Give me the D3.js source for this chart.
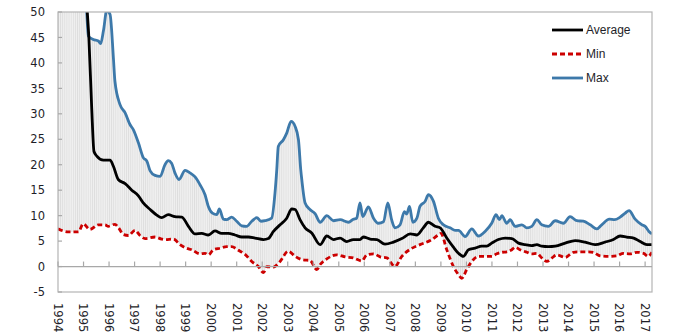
<!DOCTYPE html>
<html>
<head>
<meta charset="utf-8">
<script src="https://cdn.jsdelivr.net/npm/d3@7"></script>
<style>
  html, body { margin: 0; padding: 0; background: #ffffff; }
  svg { display: block; }
</style>
</head>
<body>
<svg id="chart" width="690" height="336"></svg>
<script>
// ---- data (decimal years, values) ----
const maxX = [1994.00,1994.50,1995.00,1995.12,1995.19,1995.38,1995.58,1995.67,1995.78,1995.91,1996.04,1996.17,1996.23,1996.43,1996.63,1996.82,1996.95,1997.15,1997.34,1997.48,1997.61,1997.80,1998.00,1998.19,1998.32,1998.45,1998.58,1998.74,1998.98,1999.17,1999.37,1999.56,1999.76,1999.89,2000.05,2000.22,2000.32,2000.48,2000.61,2000.80,2001.00,2001.20,2001.39,2001.59,2001.79,2001.95,2002.11,2002.37,2002.50,2002.57,2002.63,2002.83,2002.96,2003.13,2003.29,2003.42,2003.51,2003.55,2003.68,2003.87,2004.07,2004.27,2004.53,2004.79,2005.05,2005.38,2005.57,2005.70,2005.83,2005.94,2006.16,2006.36,2006.55,2006.75,2006.92,2007.07,2007.20,2007.40,2007.57,2007.66,2007.77,2007.90,2008.06,2008.18,2008.38,2008.51,2008.71,2008.90,2009.10,2009.36,2009.56,2009.69,2009.95,2010.21,2010.47,2010.73,2010.99,2011.16,2011.29,2011.39,2011.58,2011.71,2011.91,2012.17,2012.37,2012.56,2012.76,2012.95,2013.21,2013.48,2013.80,2014.06,2014.33,2014.58,2014.85,2015.11,2015.30,2015.60,2015.80,2016.02,2016.22,2016.37,2016.61,2016.87,2017.00,2017.15,2017.27];
const maxY = [90,80,62,50.5,45.3,44.6,44.3,43.8,46.3,50.3,49.5,41.0,36.4,31.8,30.2,27.9,26.9,24.3,21.4,20.7,18.8,17.9,17.7,20.0,20.8,20.3,18.4,17.1,18.9,18.4,17.6,16.1,14.1,11.8,10.5,10.2,11.3,9.3,9.2,9.7,8.9,8.0,7.9,8.9,9.6,8.9,9.0,9.5,14.4,19.0,23.6,24.9,26.2,28.5,27.5,24.9,19.0,17.1,12.5,11.2,10.4,8.7,10.0,9.0,9.2,8.7,9.3,9.5,12.5,9.8,11.7,9.5,8.5,8.8,12.5,9.2,7.6,8.2,10.8,10.3,11.8,8.7,9.5,11.8,12.8,14.1,12.8,9.5,8.2,7.6,7.1,7.1,5.9,7.4,6.0,6.9,8.5,10.2,9.2,10.0,8.5,9.2,7.9,8.2,7.6,7.9,9.2,8.2,7.9,9.0,8.5,9.8,9.0,8.9,8.2,7.4,8.2,9.3,9.2,9.7,10.5,11.0,9.3,8.2,7.9,6.9,6.4];

const avgX = [1994.00,1994.50,1995.00,1995.14,1995.21,1995.32,1995.41,1995.52,1995.78,1996.04,1996.17,1996.36,1996.63,1996.89,1997.15,1997.34,1997.61,1997.87,1998.06,1998.32,1998.58,1998.85,1999.11,1999.37,1999.63,1999.89,2000.15,2000.41,2000.67,2000.93,2001.20,2001.46,2001.72,2002.05,2002.24,2002.44,2002.70,2002.96,2003.16,2003.29,2003.48,2003.68,2003.94,2004.27,2004.53,2004.79,2005.05,2005.31,2005.57,2005.83,2005.96,2006.23,2006.49,2006.81,2007.14,2007.47,2007.80,2008.06,2008.31,2008.51,2008.77,2008.97,2009.23,2009.49,2009.69,2009.88,2010.08,2010.34,2010.60,2010.80,2010.99,2011.25,2011.52,2011.78,2012.04,2012.30,2012.56,2012.76,2012.95,2013.21,2013.48,2013.87,2014.26,2014.65,2015.04,2015.43,2015.76,2016.02,2016.28,2016.55,2016.81,2017.07,2017.27];
const avgY = [85,75,60,50.5,44.9,31.2,22.6,21.7,20.9,20.9,19.7,17.1,16.3,15.0,13.9,12.5,11.2,10.1,9.6,10.2,9.8,9.7,7.9,6.4,6.5,6.2,7.0,6.5,6.5,6.2,5.8,5.8,5.6,5.3,5.5,6.9,8.2,9.5,11.3,11.2,9.2,7.6,6.6,4.3,6.0,5.3,5.6,4.9,5.3,5.3,5.8,5.4,5.3,4.4,4.8,5.5,6.4,6.2,7.6,8.7,7.9,7.6,5.6,3.8,2.6,2.0,3.3,3.6,4.0,4.0,4.6,5.3,5.6,5.5,4.6,4.3,4.1,4.3,4.0,3.9,4.0,4.6,5.1,4.8,4.3,4.8,5.3,6.0,5.8,5.6,4.9,4.3,4.3];

const minX = [1994.00,1994.40,1994.80,1994.99,1995.25,1995.58,1995.84,1995.97,1996.23,1996.36,1996.56,1996.76,1997.02,1997.21,1997.41,1997.80,1998.06,1998.19,1998.52,1998.78,1999.04,1999.24,1999.56,1999.76,1999.89,2000.09,2000.35,2000.61,2000.80,2001.07,2001.33,2001.59,2001.85,2002.05,2002.18,2002.44,2002.70,2003.02,2003.29,2003.61,2003.87,2004.14,2004.27,2004.53,2004.92,2005.25,2005.57,2005.90,2006.10,2006.36,2006.62,2006.88,2007.20,2007.47,2007.80,2008.18,2008.58,2008.90,2009.00,2009.23,2009.49,2009.69,2009.82,2010.01,2010.21,2010.47,2010.73,2010.99,2011.19,2011.39,2011.58,2011.78,2011.91,2012.10,2012.37,2012.56,2012.76,2012.95,2013.15,2013.35,2013.54,2013.87,2014.19,2014.52,2014.78,2014.97,2015.24,2015.56,2015.89,2016.15,2016.41,2016.68,2016.94,2017.11,2017.27];
const minY = [7.4,6.8,6.8,8.4,7.3,8.2,8.2,7.9,8.3,7.7,6.3,6.1,7.1,6.1,5.5,5.8,5.4,5.3,5.4,4.3,3.6,3.3,2.5,2.6,2.3,3.3,3.6,3.9,3.9,3.2,2.4,1.0,0.0,-1.2,0.0,-0.1,1.0,3.0,2.0,1.3,1.2,-0.6,0.4,1.5,2.3,1.9,1.7,1.1,2.3,2.5,1.9,1.7,0.0,2.0,3.4,4.3,5.1,6.2,6.5,3.3,0.0,-1.6,-2.3,-0.6,1.0,2.0,2.0,2.0,2.5,2.8,2.9,3.3,3.8,3.3,2.8,2.5,2.6,1.7,1.0,1.7,2.3,1.8,2.8,2.9,2.9,2.8,2.1,2.0,2.1,2.6,2.5,2.8,2.6,2.0,2.8];

const yTicks = [-5,0,5,10,15,20,25,30,35,40,45,50];
const yearLabels = ["1994","1995","1996","1997","1998","1999","2000","2001","2002","2003","2004","2005","2006","2007","2008","2009","2010","2011","2012","2013","2014","2015","2016","2017"];
const seriesNames = ["Average","Min","Max"];

// ---- layout ----
const L = 58, T = 12, R = 652, B = 292;
const svg = d3.select("#chart");
const x = d3.scaleLinear().domain([1994, 2017.27]).range([L, R]);
const y = d3.scaleLinear().domain([-5, 50]).range([B, T]);
const axisColor = "#b4b4b4";
const textColor = "#1e1e28";

const defs = svg.append("defs");
defs.append("clipPath").attr("id", "plotClip")
  .append("rect").attr("x", L).attr("y", T).attr("width", R - L).attr("height", B - T);

const monthW = x(1994 + 1/12) - x(1994);
const pat = defs.append("pattern").attr("id", "hl")
  .attr("patternUnits", "userSpaceOnUse")
  .attr("x", L).attr("y", 0)
  .attr("width", monthW).attr("height", 10);
pat.append("rect").attr("width", monthW).attr("height", 10).attr("fill", "#f0f0f0");
pat.append("rect").attr("x", 0).attr("width", 0.8).attr("height", 10).attr("fill", "#dedede");

const maxPts = maxX.map((d, i) => [d, maxY[i]]);
const avgPts = avgX.map((d, i) => [d, avgY[i]]);
const minPts = minX.map((d, i) => [d, minY[i]]);

const plot = svg.append("g").attr("clip-path", "url(#plotClip)");

// high-low band
const bandPts = maxPts.concat(minPts.slice().reverse());
plot.append("path")
  .attr("d", d3.line().x(d => x(d[0])).y(d => y(d[1])).curve(d3.curveLinearClosed)(bandPts))
  .attr("fill", "url(#hl)");

// frame
svg.append("rect").attr("x", L).attr("y", T).attr("width", R - L).attr("height", B - T)
  .attr("fill", "none").attr("stroke", axisColor).attr("stroke-width", 1.2);

// zero line with year ticks
svg.append("line").attr("x1", L).attr("x2", R).attr("y1", y(0)).attr("y2", y(0))
  .attr("stroke", "#a8a8a8").attr("stroke-width", 1.2);
const years = yearLabels.map(Number);
svg.selectAll("line.ytk").data(years).join("line").attr("class", "ytk")
  .attr("x1", d => x(d)).attr("x2", d => x(d))
  .attr("y1", y(0)).attr("y2", y(0) - 5)
  .attr("stroke", "#a8a8a8").attr("stroke-width", 1.2);

// left axis ticks (inward)
svg.selectAll("line.ltk").data(yTicks).join("line").attr("class", "ltk")
  .attr("x1", L).attr("x2", L + 4)
  .attr("y1", d => y(d)).attr("y2", d => y(d))
  .attr("stroke", "#a8a8a8").attr("stroke-width", 1.2);

// y labels
svg.selectAll("text.yl").data(yTicks).join("text").attr("class", "yl")
  .attr("x", 45).attr("y", d => y(d)).attr("dy", "0.36em")
  .attr("text-anchor", "end")
  .attr("font-family", "DejaVu Sans, sans-serif").attr("font-size", 11.5)
  .attr("fill", textColor).text(d => d);

// x labels (rotated)
svg.selectAll("text.xl").data(yearLabels).join("text").attr("class", "xl")
  .attr("transform", d => `translate(${x(+d)},303) rotate(90)`)
  .attr("dy", "0.36em")
  .attr("text-anchor", "start")
  .attr("font-family", "DejaVu Sans, sans-serif").attr("font-size", 11.5)
  .attr("fill", textColor).text(d => d);

// lines
const lineGen = d3.line().x(d => x(d[0])).y(d => y(d[1])).curve(d3.curveMonotoneX);
plot.append("path").attr("d", lineGen(maxPts)).attr("fill", "none")
  .attr("stroke", "#3d79aa").attr("stroke-width", 2.8).attr("stroke-linejoin", "round");
plot.append("path").attr("d", lineGen(minPts)).attr("fill", "none")
  .attr("stroke", "#cc0000").attr("stroke-width", 2.8).attr("stroke-dasharray", "5,3");
plot.append("path").attr("d", lineGen(avgPts)).attr("fill", "none")
  .attr("stroke", "#000000").attr("stroke-width", 2.8).attr("stroke-linejoin", "round");

// legend
const legStyles = [
  {c: "#000000", dash: null},
  {c: "#cc0000", dash: "5,3"},
  {c: "#3d79aa", dash: null}
];
const leg = svg.append("g");
seriesNames.forEach((n, i) => {
  const ly = 30 + i * 24;
  leg.append("line").attr("x1", 552).attr("x2", 583).attr("y1", ly).attr("y2", ly)
    .attr("stroke", legStyles[i].c).attr("stroke-width", 2.8)
    .attr("stroke-dasharray", legStyles[i].dash);
  leg.append("text").attr("x", 586).attr("y", ly).attr("dy", "0.36em")
    .attr("font-family", "Liberation Sans, Arial, sans-serif").attr("font-size", 12)
    .attr("fill", textColor).text(n);
});
</script>
</body>
</html>
